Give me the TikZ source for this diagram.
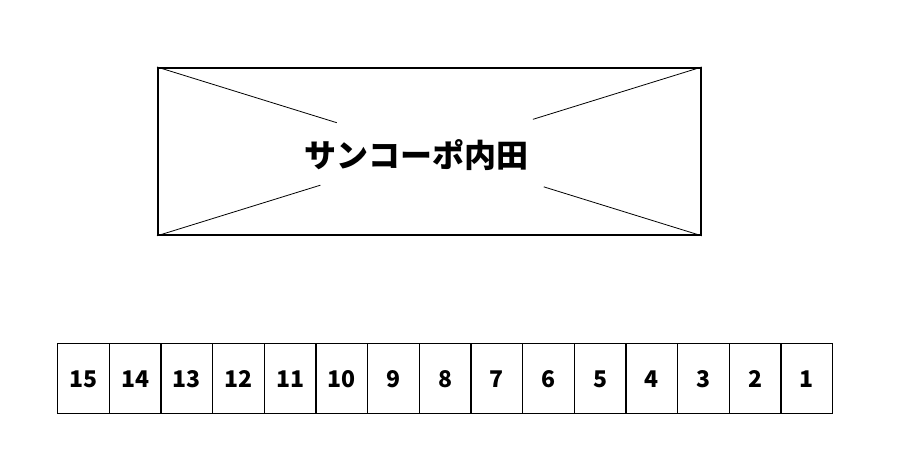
\documentclass[tikz,border=0pt]{standalone}
\usepackage{fontspec}
\newfontfamily\cjk{Noto Sans CJK JP}
\usetikzlibrary{calc}

\begin{document}
\begin{tikzpicture}[x=1pt, y=1pt,
  cell/.style={rectangle, draw=black, line width=1.2pt, minimum width=51.67pt, minimum height=70pt, inner sep=0pt, text height=17pt, text depth=0pt, anchor=north west, font=\cjk\bfseries\fontsize{23}{23}\selectfont},
  cross/.style={draw=black, line width=0.8pt}]

\useasboundingbox (0,0) rectangle (901,-459);

% building
\node at (157,-67)[rectangle, draw=black, line width=1.8pt, minimum width=543pt, minimum height=167pt, inner sep=0pt, anchor=north west] (building) {};
\node at (416,-155)[font=\cjk\bfseries\fontsize{32}{32}\selectfont] (name) {サンコーポ内田};

\coordinate (nwend) at ($(building.north west)!0.33!(building.south east)$);
\coordinate (neend) at ($(building.north east)!0.31!(building.south west)$);
\coordinate (swend) at ($(building.south west)!0.30!(building.north east)$);
\coordinate (seend) at ($(building.south east)!0.29!(building.north west)$);

\draw[cross] (building.north west) -- (nwend);
\draw[cross] (building.north east) -- (neend);
\draw[cross] (building.south west) -- (swend);
\draw[cross] (building.south east) -- (seend);

% parking
\node at (57,-343)[cell] (c15) {15};
\node at (108.67,-343)[cell] (c14) {14};
\node at (160.33,-343)[cell] (c13) {13};
\node at (212,-343)[cell] (c12) {12};
\node at (263.67,-343)[cell] (c11) {11};
\node at (315.33,-343)[cell] (c10) {10};
\node at (367,-343)[cell] (c9) {9};
\node at (418.67,-343)[cell] (c8) {8};
\node at (470.33,-343)[cell] (c7) {7};
\node at (522,-343)[cell] (c6) {6};
\node at (573.67,-343)[cell] (c5) {5};
\node at (625.33,-343)[cell] (c4) {4};
\node at (677,-343)[cell] (c3) {3};
\node at (728.67,-343)[cell] (c2) {2};
\node at (780.33,-343)[cell] (c1) {1};

\end{tikzpicture}
\end{document}
